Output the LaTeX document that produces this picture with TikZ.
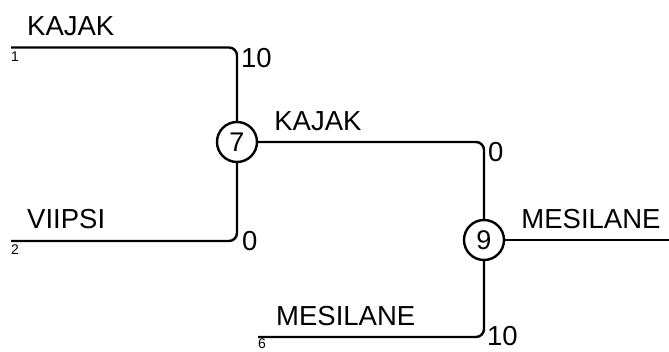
\documentclass[tikz,border=0pt]{standalone}
\usepackage{fontspec}
\setmainfont{Liberation Sans}

\begin{document}
\begin{tikzpicture}[x=1pt, y=1pt,
	line/.style={line width=2.4pt, rounded corners=8pt},
	game/.style={circle, draw, line width=2.4pt, minimum size=40pt, inner sep=0pt, font=\fontsize{27}{27}\selectfont},
	team/.style={anchor=base west, inner sep=0pt, font=\fontsize{27.5}{27.5}\selectfont},
	seed/.style={anchor=base west, inner sep=0pt, font=\fontsize{14}{14}\selectfont}]
	\useasboundingbox (0,0) rectangle (669,351);
	\coordinate (s1) at (11,303.5);
	\coordinate (s2) at (11,110);
	\coordinate (s6) at (258,14);
	\coordinate (win) at (669,111);
	\node[game] (g7) at (237,209) {7};
	\node[game] (g9) at (484,111) {9};
	\coordinate (c1) at (g7 |- s1);
	\coordinate (c2) at (g7 |- s2);
	\coordinate (c7) at (g9 |- g7);
	\coordinate (c6) at (g9 |- s6);
	\draw[line] (s1) -| (g7);
	\draw[line] (s2) -| (g7);
	\draw[line] (g7) -| (g9);
	\draw[line] (s6) -| (g9);
	\draw[line] (g9) -- (win);
	% teams
	\node[team] (t1) at ([shift={(16,12)}]s1) {KAJAK};
	\node[team] (t2) at ([shift={(16,12)}]s2) {VIIPSI};
	\node[team] (t7) at ([shift={(16,11)}]g7.east) {KAJAK};
	\node[team] (t6) at ([shift={(18,12)}]s6) {MESILANE};
	\node[team] (t9) at ([shift={(16,11)}]g9.east) {MESILANE};
	% scores
	\node[team] (p1) at ([shift={(4,-20)}]c1) {10};
	\node[team] (p2) at ([shift={(5,-9)}]c2) {0};
	\node[team] (p7) at ([shift={(4,-20)}]c7) {0};
	\node[team] (p6) at ([shift={(3,-8)}]c6) {10};
	% seeds
	\foreach \s/\n/\d in {s1/1/14, s2/2/14, s6/6/11} {
		\node[seed] (n\n) at ([shift={(0,-\d)}]\s) {\n};
	}
\end{tikzpicture}
\end{document}
